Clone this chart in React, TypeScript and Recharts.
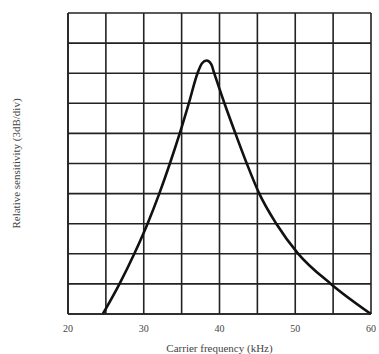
import React from 'react';
import { LineChart, Line, XAxis, YAxis, CartesianGrid, Label } from 'recharts';

const freqKHz = [24.6, 26.8, 28.75, 30.5, 32.05, 33.45, 34.75, 35.95, 37.1, 37.7, 38.3, 38.9, 39.3, 40.65, 42.1, 43.6, 45.25, 47.5, 50.4, 54.7, 60];
const sensitivity = [0, 1, 2, 3, 4, 5, 6, 7, 8, 8.33, 8.42, 8.3, 8, 7, 6, 5, 4, 3, 2, 1, 0];
const xTicks = [20, 25, 30, 35, 40, 45, 50, 55, 60];
const yTicks = [0, 1, 2, 3, 4, 5, 6, 7, 8, 9, 10];

const data = freqKHz.map((f, i) => ({ f, s: sensitivity[i] }));

const font = '"Liberation Serif", "DejaVu Serif", serif';

export default function App() {
  return (
    <div style={{ position: 'absolute', left: 0, top: 0, background: '#fff' }}>
      <LineChart width={379} height={354} data={data} margin={{ top: 13, right: 8, left: 0, bottom: 0 }}>
        <CartesianGrid stroke="#222" strokeWidth={1.6} />
        <XAxis
          dataKey="f"
          type="number"
          domain={[20, 60]}
          ticks={xTicks}
          height={40}
          tickLine={false}
          axisLine={{ stroke: '#222', strokeWidth: 1.6 }}
          tickMargin={5}
          tickFormatter={(v: number) => (v % 10 === 0 ? String(v) : '')}
          tick={{ fontFamily: font, fontSize: 10, fill: '#444' }}
        >
          <Label value="Carrier frequency (kHz)" position="insideBottom" offset={2} style={{ fontFamily: font, fontSize: 11, fill: '#444' }} />
        </XAxis>
        <YAxis
          type="number"
          domain={[0, 10]}
          ticks={yTicks}
          width={68}
          tickFormatter={() => ''}
          tickLine={false}
          axisLine={{ stroke: '#222', strokeWidth: 1.6 }}
        >
          <Label value="Relative sensitivity (3dB/div)" angle={-90} position="insideLeft" offset={16} style={{ fontFamily: font, fontSize: 11, fill: '#444', textAnchor: 'middle' }} />
        </YAxis>
        <Line type="monotone" dataKey="s" stroke="#111" strokeWidth={2.6} dot={false} isAnimationActive={false} />
      </LineChart>
    </div>
  );
}
